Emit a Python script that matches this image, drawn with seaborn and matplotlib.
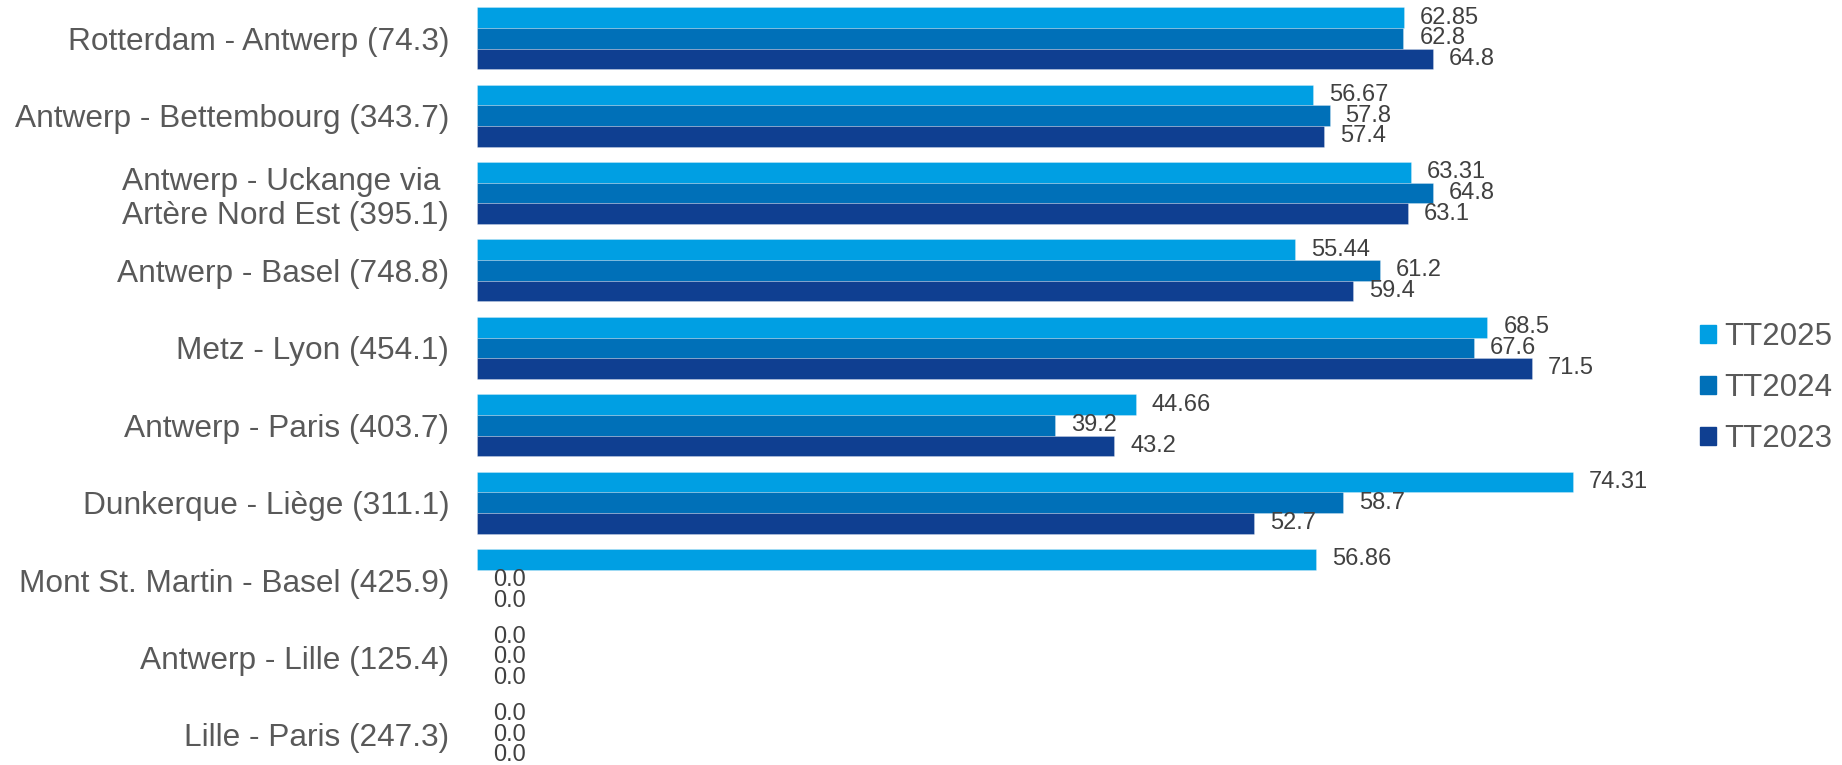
import matplotlib
matplotlib.use("Agg")
import matplotlib.pyplot as plt
import seaborn as sns
import pandas as pd

routes = [
    "Rotterdam - Antwerp (74.3)",
    "Antwerp - Bettembourg (343.7)",
    "Antwerp - Uckange via \nArtère Nord Est (395.1)",
    "Antwerp - Basel (748.8)",
    "Metz - Lyon (454.1)",
    "Antwerp - Paris (403.7)",
    "Dunkerque - Liège (311.1)",
    "Mont St. Martin - Basel (425.9)",
    "Antwerp - Lille (125.4)",
    "Lille - Paris (247.3)",
]
series = ["TT2025", "TT2024", "TT2023"]
tt2025 = [62.85, 56.67, 63.31, 55.44, 68.5, 44.66, 74.31, 56.86, 0.0, 0.0]
tt2024 = [62.8, 57.8, 64.8, 61.2, 67.6, 39.2, 58.7, 0.0, 0.0, 0.0]
tt2023 = [64.8, 57.4, 63.1, 59.4, 71.5, 43.2, 52.7, 0.0, 0.0, 0.0]
colors = {"TT2025": "#009FE3", "TT2024": "#0070B8", "TT2023": "#0F3F91"}

values = {"TT2025": tt2025, "TT2024": tt2024, "TT2023": tt2023}
rows = []
for s in series:
    for r, v in zip(routes, values[s]):
        rows.append({"route": r, "series": s, "value": v})
df = pd.DataFrame(rows)

sns.set_theme(style="white")
plt.rcParams["font.family"] = ["Liberation Sans", "DejaVu Sans"]

W, H = 1842, 765
fig = plt.figure(figsize=(W / 100, H / 100), dpi=100)
x0 = 477
ax_right = 1680
ax = fig.add_axes([x0 / W, 0.0, (ax_right - x0) / W, 1.0])

sns.barplot(data=df, y="route", x="value", hue="series", hue_order=series,
            order=routes, palette=colors, orient="h", width=0.8,
            saturation=1, errorbar=None, ax=ax, legend=True,
            linewidth=0.6, edgecolor=(1, 1, 1, 0.3))

px_per_unit = 14.75
ax.set_xlim(0, (ax_right - x0) / px_per_unit)
ax.set_ylim(9.39, -0.494)


def fmt(v):
    s = f"{v:.2f}".rstrip("0")
    if s.endswith("."):
        s += "0"
    return s


for cont, s in zip(ax.containers, series):
    ax.bar_label(cont, labels=[fmt(v) for v in values[s]], padding=11.5,
                 fontsize=17, color="#404040")

for sp in ax.spines.values():
    sp.set_visible(False)
ax.set_xticks([])
ax.set_xlabel("")
ax.set_ylabel("")
ax.tick_params(axis="y", length=0, pad=20, labelsize=22.8, labelcolor="#595959")
for lab in ax.get_yticklabels():
    lab.set_multialignment("center")

ax.get_legend().remove()
handles = [plt.Rectangle((0, 0), 1, 1, color=colors[s]) for s in series]
fig.legend(handles, series, loc="center left",
           bbox_to_anchor=(1700 / W, 1 - 388 / H), frameon=False,
           fontsize=22.5, labelcolor="#595959", handlelength=0.52,
           handleheight=0.52, handletextpad=0.25, labelspacing=0.68,
           borderpad=0, borderaxespad=0)

fig.savefig("out.png", dpi=100)
